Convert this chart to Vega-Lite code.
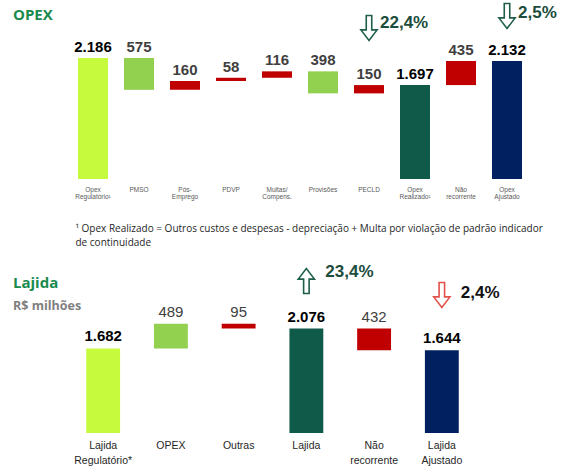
{
  "$schema": "https://vega.github.io/schema/vega-lite/v6.json",
  "padding": {"left": 13, "top": 0, "right": 5, "bottom": 5},
  "config": {
    "view": {"stroke": null},
    "font": "Liberation Sans",
    "locale": {"number": {"decimal": ",", "thousands": ".", "grouping": [3], "currency": ["R$", ""]}}
  },
  "datasets": {
    "opex": [
      {"item": "Opex Regulatório¹", "de": 0, "ate": 2186, "valor": 2186, "tipo": "base"},
      {"item": "PMSO", "de": 1611, "ate": 2186, "valor": 575, "tipo": "favoravel"},
      {"item": "Pós-Emprego", "de": 1611, "ate": 1771, "valor": 160, "tipo": "desfavoravel"},
      {"item": "PDVP", "de": 1771, "ate": 1829, "valor": 58, "tipo": "desfavoravel"},
      {"item": "Multas/Compens.", "de": 1829, "ate": 1945, "valor": 116, "tipo": "desfavoravel"},
      {"item": "Provisões", "de": 1547, "ate": 1945, "valor": 398, "tipo": "favoravel"},
      {"item": "PECLD", "de": 1547, "ate": 1697, "valor": 150, "tipo": "desfavoravel"},
      {"item": "Opex Realizado¹", "de": 0, "ate": 1697, "valor": 1697, "tipo": "realizado"},
      {"item": "Não recorrente", "de": 1697, "ate": 2132, "valor": 435, "tipo": "desfavoravel"},
      {"item": "Opex Ajustado", "de": 0, "ate": 2132, "valor": 2132, "tipo": "ajustado"}
    ],
    "opex_notas": [
      {"item": "PECLD", "variacao": 0.224, "sentido": "queda", "tom": "verde", "y_seta": 2728, "y_texto": 2818},
      {"item": "Opex Ajustado", "variacao": 0.025, "sentido": "queda", "tom": "verde", "y_seta": 2945, "y_texto": 2999}
    ],
    "lajida": [
      {"item": "Lajida Regulatório*", "de": 0, "ate": 1682, "valor": 1682, "tipo": "base"},
      {"item": "OPEX", "de": 1682, "ate": 2171, "valor": 489, "tipo": "favoravel"},
      {"item": "Outras", "de": 2076, "ate": 2171, "valor": 95, "tipo": "desfavoravel"},
      {"item": "Lajida", "de": 0, "ate": 2076, "valor": 2076, "tipo": "realizado"},
      {"item": "Não recorrente", "de": 1644, "ate": 2076, "valor": 432, "tipo": "desfavoravel"},
      {"item": "Lajida Ajustado", "de": 0, "ate": 1644, "valor": 1644, "tipo": "ajustado"}
    ],
    "lajida_notas": [
      {"item": "Lajida", "variacao": 0.234, "sentido": "alta", "tom": "verde", "y_seta": 3022, "y_texto": 3201},
      {"item": "Lajida Ajustado", "variacao": 0.024, "sentido": "queda", "tom": "vermelho", "y_seta": 2744, "y_texto": 2783}
    ]
  },
  "spacing": 83,
  "bounds": "flush",
  "vconcat": [
    {
      "width": 474,
      "height": 176,
      "title": {"text": "OPEX", "anchor": "start", "frame": "group", "dx": -50, "offset": -22.5, "font": "Open Sans", "fontSize": 15, "fontWeight": "bold", "color": "#1A8A4E"},
      "layer": [
        {
          "data": {"name": "opex"},
          "mark": {"type": "bar"},
          "encoding": {
            "x": {
              "field": "item", "type": "nominal", "sort": null,
              "scale": {"domain": ["Opex Regulatório¹", "PMSO", "Pós-Emprego", "PDVP", "Multas/Compens.", "Provisões", "PECLD", "Opex Realizado¹", "Não recorrente", "Opex Ajustado"], "paddingInner": 0.348, "paddingOuter": 0.326},
              "axis": {
                "title": ["¹ Opex Realizado = Outros custos e despesas - depreciação + Multa por violação de padrão indicador", "de continuidade"],
                "titleAnchor": "start", "titleAlign": "left", "titleX": 12, "titleY": 52, "titleBaseline": "alphabetic",
                "titleFont": "Open Sans", "titleFontSize": 10, "titleFontWeight": "normal", "titleColor": "#262626", "titleLineHeight": 14,
                "labelAngle": 0, "labelOverlap": false,
                "labelExpr": "split(replace(replace(replace(datum.label, ' ', '|'), '-', '-|'), '/', '/|'), '|')",
                "labelFont": "Liberation Sans", "labelFontSize": 6.5, "labelLineHeight": 7, "labelColor": "#595959",
                "labelPadding": 7, "labelBaseline": "top", "ticks": false, "domain": false
              }
            },
            "y": {"field": "de", "type": "quantitative", "scale": {"domain": [0, 3180], "nice": false, "zero": false}, "axis": null},
            "y2": {"field": "ate"},
            "fill": {"field": "tipo", "type": "nominal", "scale": {"domain": ["base", "favoravel", "desfavoravel", "realizado", "ajustado"], "range": ["#C6FA3C", "#92D050", "#C00000", "#0F5A48", "#002060"]}, "legend": null}
          }
        },
        {
          "data": {"name": "opex"},
          "transform": [{"filter": "datum.de == 0"}],
          "mark": {"type": "text", "fontWeight": "bold", "fontSize": 15, "baseline": "alphabetic", "dy": -6, "color": "#000000"},
          "encoding": {
            "x": {"field": "item", "type": "nominal", "sort": null},
            "y": {"field": "ate", "type": "quantitative"},
            "text": {"field": "valor", "type": "quantitative", "format": ",d"}
          }
        },
        {
          "data": {"name": "opex"},
          "transform": [{"filter": "datum.de > 0"}],
          "mark": {"type": "text", "fontWeight": "bold", "fontSize": 15, "baseline": "alphabetic", "dy": -6, "color": "#404040"},
          "encoding": {
            "x": {"field": "item", "type": "nominal", "sort": null},
            "y": {"field": "ate", "type": "quantitative"},
            "text": {"field": "valor", "type": "quantitative", "format": ",d"}
          }
        },
        {
          "data": {"name": "opex_notas"},
          "mark": {"type": "point", "filled": false, "strokeWidth": 1.6, "size": 625, "opacity": 1},
          "encoding": {
            "x": {"field": "item", "type": "nominal", "sort": null},
            "y": {"field": "y_seta", "type": "quantitative"},
            "shape": {"field": "sentido", "type": "nominal", "scale": {"domain": ["queda", "alta"], "range": ["M-0.22,-1L0.22,-1L0.22,0.15L0.65,0.15L0,1L-0.65,0.15L-0.22,0.15Z", "M-0.22,1L0.22,1L0.22,-0.15L0.65,-0.15L0,-1L-0.65,-0.15L-0.22,-0.15Z"]}, "legend": null},
            "stroke": {"field": "tom", "type": "nominal", "scale": {"domain": ["verde", "vermelho"], "range": ["#1F5E4A", "#E0514C"]}, "legend": null}
          }
        },
        {
          "data": {"name": "opex_notas"},
          "mark": {"type": "text", "align": "left", "baseline": "middle", "dx": 11, "fontSize": 17, "fontWeight": "bold"},
          "encoding": {
            "x": {"field": "item", "type": "nominal", "sort": null},
            "y": {"field": "y_texto", "type": "quantitative"},
            "text": {"field": "variacao", "type": "quantitative", "format": ".1%"},
            "color": {"field": "tom", "type": "nominal", "scale": {"domain": ["verde", "vermelho"], "range": ["#1B4C3C", "#111111"]}, "legend": null}
          }
        }
      ]
    },
    {
      "width": 419,
      "height": 171,
      "title": {"text": "Lajida", "subtitle": "R$ milhões", "anchor": "start", "frame": "group", "dx": -50, "offset": -50, "font": "Open Sans", "fontSize": 15, "fontWeight": "bold", "color": "#1A8A4E", "subtitleFont": "Open Sans", "subtitleFontSize": 12.5, "subtitleFontWeight": "bold", "subtitleColor": "#7F7F7F", "subtitlePadding": 9},
      "layer": [
        {
          "data": {"name": "lajida"},
          "mark": {"type": "bar"},
          "encoding": {
            "x": {
              "field": "item", "type": "nominal", "sort": null,
              "scale": {"domain": ["Lajida Regulatório*", "OPEX", "Outras", "Lajida", "Não recorrente", "Lajida Ajustado"], "paddingInner": 0.5, "paddingOuter": 0.343},
              "axis": {
                "title": null, "labelAngle": 0, "labelOverlap": false,
                "labelExpr": "split(replace(datum.label, ' ', '|'), '|')",
                "labelFont": "Liberation Sans", "labelFontSize": 10.5, "labelLineHeight": 15, "labelColor": "#262626",
                "labelPadding": 7, "labelBaseline": "top", "ticks": false, "domain": false
              }
            },
            "y": {"field": "de", "type": "quantitative", "scale": {"domain": [0, 3400], "nice": false, "zero": false}, "axis": null},
            "y2": {"field": "ate"},
            "fill": {"field": "tipo", "type": "nominal", "scale": {"domain": ["base", "favoravel", "desfavoravel", "realizado", "ajustado"], "range": ["#C6FA3C", "#92D050", "#C00000", "#0F5A48", "#002060"]}, "legend": null}
          }
        },
        {
          "data": {"name": "lajida"},
          "transform": [{"filter": "datum.de == 0"}],
          "mark": {"type": "text", "fontWeight": "bold", "fontSize": 15, "baseline": "alphabetic", "dy": -7, "color": "#000000"},
          "encoding": {
            "x": {"field": "item", "type": "nominal", "sort": null},
            "y": {"field": "ate", "type": "quantitative"},
            "text": {"field": "valor", "type": "quantitative", "format": ",d"}
          }
        },
        {
          "data": {"name": "lajida"},
          "transform": [{"filter": "datum.de > 0"}],
          "mark": {"type": "text", "fontWeight": "normal", "fontSize": 15, "baseline": "alphabetic", "dy": -7, "color": "#404040"},
          "encoding": {
            "x": {"field": "item", "type": "nominal", "sort": null},
            "y": {"field": "ate", "type": "quantitative"},
            "text": {"field": "valor", "type": "quantitative", "format": ",d"}
          }
        },
        {
          "data": {"name": "lajida_notas"},
          "mark": {"type": "point", "filled": false, "strokeWidth": 1.6, "size": 625, "opacity": 1},
          "encoding": {
            "x": {"field": "item", "type": "nominal", "sort": null},
            "y": {"field": "y_seta", "type": "quantitative"},
            "shape": {"field": "sentido", "type": "nominal", "scale": {"domain": ["queda", "alta"], "range": ["M-0.22,-1L0.22,-1L0.22,0.15L0.65,0.15L0,1L-0.65,0.15L-0.22,0.15Z", "M-0.22,1L0.22,1L0.22,-0.15L0.65,-0.15L0,-1L-0.65,-0.15L-0.22,-0.15Z"]}, "legend": null},
            "stroke": {"field": "tom", "type": "nominal", "scale": {"domain": ["verde", "vermelho"], "range": ["#1F5E4A", "#E0514C"]}, "legend": null}
          }
        },
        {
          "data": {"name": "lajida_notas"},
          "mark": {"type": "text", "align": "left", "baseline": "middle", "dx": 19, "fontSize": 17, "fontWeight": "bold"},
          "encoding": {
            "x": {"field": "item", "type": "nominal", "sort": null},
            "y": {"field": "y_texto", "type": "quantitative"},
            "text": {"field": "variacao", "type": "quantitative", "format": ".1%"},
            "color": {"field": "tom", "type": "nominal", "scale": {"domain": ["verde", "vermelho"], "range": ["#1B4C3C", "#111111"]}, "legend": null}
          }
        }
      ]
    }
  ]
}
